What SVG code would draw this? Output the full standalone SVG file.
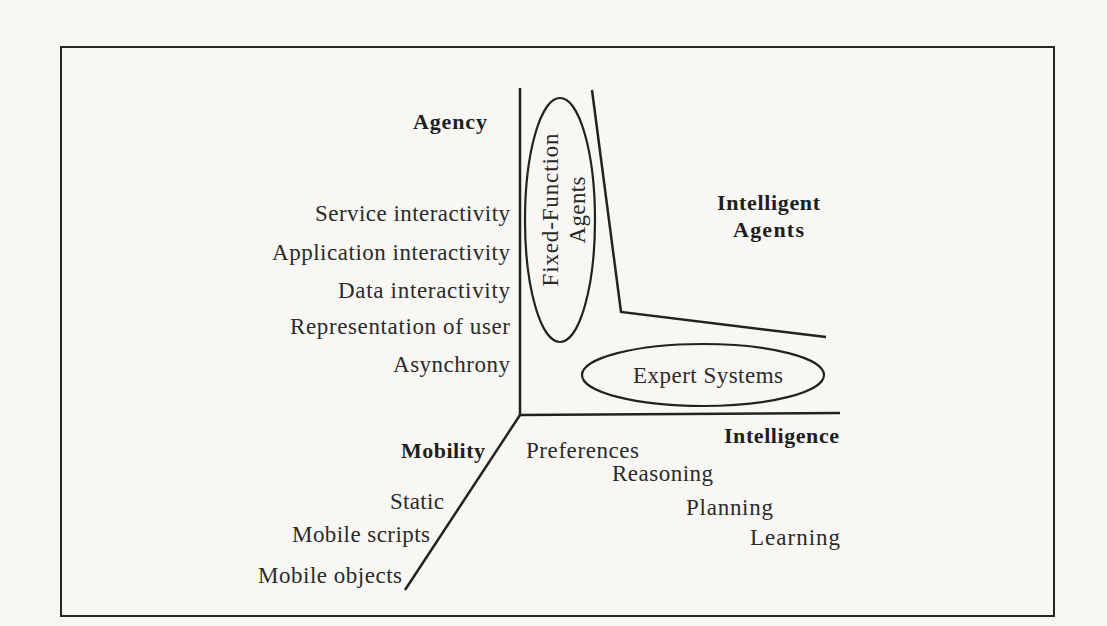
<svg xmlns="http://www.w3.org/2000/svg" width="1107" height="626" viewBox="0 0 1107 626">
  <style>
    .lbl { font-family: "Liberation Serif", "Times New Roman", serif; font-size: 23px; fill: #2a2a2a; }
    .hd { font-family: "Liberation Serif", "Times New Roman", serif; font-size: 22px; font-weight: bold; fill: #1e1e1e; }
    .ln { fill: none; stroke: #222; stroke-width: 2.5; stroke-linejoin: miter; }
    .ring { fill: none; stroke: #222; stroke-width: 2.2; }
  </style>

  <!-- page and frame -->
  <rect x="0" y="0" width="1107" height="626" fill="#f7f6f1"/>
  <rect x="61" y="47" width="993" height="569" fill="#f8f7f3" stroke="#262626" stroke-width="2"/>

  <!-- axes and region boundary -->
  <g id="connectors">
    <polyline class="ln" points="520,88 520,415 840,413"/>
    <line class="ln" x1="520" y1="415" x2="405" y2="590"/>
    <polyline class="ln" points="592,90 621,312 826,337"/>
  </g>

  <!-- Agency axis -->
  <g id="agency-axis">
    <text class="hd" x="413" y="129" textLength="74" lengthAdjust="spacing">Agency</text>
    <text class="lbl" x="315" y="221" textLength="195" lengthAdjust="spacing">Service interactivity</text>
    <text class="lbl" x="272" y="260" textLength="238" lengthAdjust="spacing">Application interactivity</text>
    <text class="lbl" x="338" y="298" textLength="172" lengthAdjust="spacing">Data interactivity</text>
    <text class="lbl" x="290" y="334" textLength="220" lengthAdjust="spacing">Representation of user</text>
    <text class="lbl" x="393" y="372" textLength="117" lengthAdjust="spacing">Asynchrony</text>
  </g>

  <!-- Fixed-Function Agents -->
  <g id="fixed-function-agents">
    <ellipse class="ring" cx="560" cy="220" rx="35" ry="122"/>
    <text class="lbl" transform="translate(558,210) rotate(-90)" x="0" y="0" text-anchor="middle" textLength="153" lengthAdjust="spacing">Fixed-Function</text>
    <text class="lbl" transform="translate(585,210) rotate(-90)" x="0" y="0" text-anchor="middle" textLength="67" lengthAdjust="spacing">Agents</text>
  </g>

  <!-- Intelligent Agents -->
  <g id="intelligent-agents">
    <text class="hd" x="717" y="210" textLength="103" lengthAdjust="spacing">Intelligent</text>
    <text class="hd" x="733" y="237" textLength="71" lengthAdjust="spacing">Agents</text>
  </g>

  <!-- Expert Systems -->
  <g id="expert-systems">
    <ellipse class="ring" cx="703" cy="375" rx="121" ry="31"/>
    <text class="lbl" x="633" y="383" textLength="150" lengthAdjust="spacing">Expert Systems</text>
  </g>

  <!-- Intelligence axis -->
  <g id="intelligence-axis">
    <text class="hd" x="724" y="443" textLength="115" lengthAdjust="spacing">Intelligence</text>
    <text class="lbl" x="526" y="458" textLength="113" lengthAdjust="spacing">Preferences</text>
    <text class="lbl" x="612" y="481" textLength="101" lengthAdjust="spacing">Reasoning</text>
    <text class="lbl" x="686" y="515" textLength="87" lengthAdjust="spacing">Planning</text>
    <text class="lbl" x="750" y="545" textLength="90" lengthAdjust="spacing">Learning</text>
  </g>

  <!-- Mobility axis -->
  <g id="mobility-axis">
    <text class="hd" x="401" y="458" textLength="84" lengthAdjust="spacing">Mobility</text>
    <text class="lbl" x="390" y="509" textLength="54" lengthAdjust="spacing">Static</text>
    <text class="lbl" x="292" y="542" textLength="138" lengthAdjust="spacing">Mobile scripts</text>
    <text class="lbl" x="258" y="583" textLength="144" lengthAdjust="spacing">Mobile objects</text>
  </g>
</svg>
